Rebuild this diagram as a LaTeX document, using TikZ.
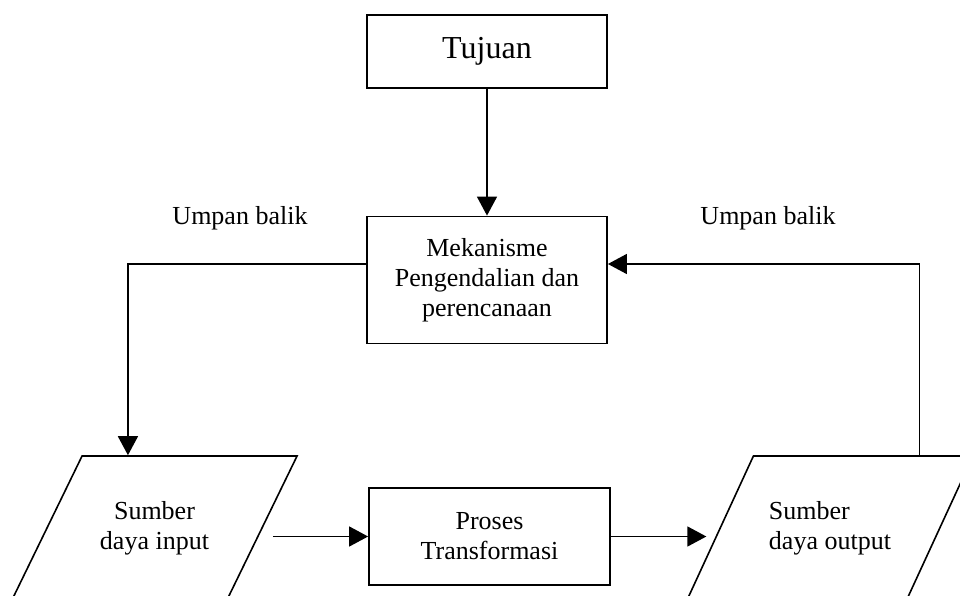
\documentclass[tikz,border=0pt]{standalone}
\usepackage{fontspec}
\setmainfont{Liberation Serif}
\usetikzlibrary{arrows.meta,shapes.geometric}

\begin{document}
\begin{tikzpicture}[x=1pt, y=-1pt, line width=1.5pt, >={Triangle[length=19pt,width=20pt]}]
	\useasboundingbox (0,0) rectangle (960,596);
	\clip (0,0) rectangle (960,596);
	\tikzstyle{every node}=[align=center, inner sep=1pt, font=\fontsize{26}{30}\selectfont]
	\tikzstyle{box}=[draw, rectangle, line width=1.8pt]
	\tikzstyle{slant}=[draw, trapezium, trapezium left angle=46, trapezium right angle=134, trapezium stretches=true, minimum height=144pt, minimum width=286pt, line width=1.6pt]

	\node[box, minimum width=240pt, minimum height=73pt, font=\fontsize{32}{36}\selectfont] (goal) at (487, 51.5) {Tujuan};
	\node[box, minimum width=240pt, minimum height=127pt] (mech) at (487, 280) {Mekanisme \\ Pengendalian dan \\ perencanaan};
	\node[box, minimum width=241pt, minimum height=97pt] (proc) at (489.5, 536.5) {Proses \\ Transformasi};
	\node[slant] (inp) at (154.5, 528) {Sumber \\ daya input};
	\node[slant, align=left] (outp) at (830, 528) {Sumber \\ daya output};
	\node (fbl) at (240, 218) {Umpan balik};
	\node (fbr) at (768, 218) {Umpan balik};

	\draw[->] (goal) to (mech);
	\draw[->] ([yshift=16pt]mech.west) -| ([xshift=-62pt]inp.top side);
	\draw[->] ([xshift=56pt]outp.top side) |- ([yshift=16pt]mech.east);
	\draw[->] ([xshift=10pt]proc.west -| inp.right side) to (proc.west);
	\draw[->] (proc.east) to ([xshift=-13pt]proc.east -| outp.left side);
\end{tikzpicture}
\end{document}
